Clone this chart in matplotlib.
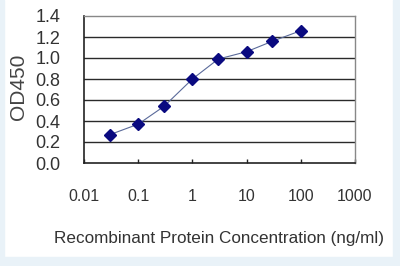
import matplotlib.pyplot as plt
import matplotlib.patches as patches
import numpy as np

# data
conc = [0.03, 0.1, 0.3, 1, 3, 10, 30, 100]
od450 = [0.27, 0.37, 0.54, 0.80, 0.99, 1.06, 1.16, 1.26]
y_ticks = [0.0, 0.2, 0.4, 0.6, 0.8, 1.0, 1.2, 1.4]
x_ticks = [0.01, 0.1, 1, 10, 100, 1000]
x_labels = ['0.01', '0.1', '1', '10', '100', '1000']

plt.rcParams['font.family'] = 'sans-serif'
plt.rcParams['font.sans-serif'] = ['Liberation Sans', 'DejaVu Sans']
txt = '#333333'

W, H = 400, 266
fig = plt.figure(figsize=(W / 100, H / 100), dpi=100)
fig.patch.set_facecolor('white')

# light blue frame around the white panel
bg = '#e9f2f8'
fig.patches.append(patches.Rectangle((0, 0), 4 / W, 1, transform=fig.transFigure, color=bg, zorder=-1))
fig.patches.append(patches.Rectangle((393 / W, 0), 7 / W, 1, transform=fig.transFigure, color=bg, zorder=-1))
fig.patches.append(patches.Rectangle((0, 0), 1, 9 / H, transform=fig.transFigure, color=bg, zorder=-1))

# axes: x 84..355, y 16..163 (pixels)
ax = fig.add_axes([84 / W, 1 - 163 / H, (355 - 84) / W, (163 - 16) / H])
ax.set_xscale('log')
ax.set_xlim(0.01, 1000)
ax.set_ylim(0, 1.4)

for y in y_ticks[1:-1]:
    ax.axhline(y, color='#2a2a2a', linewidth=1.0, zorder=1)

ax.plot(conc, od450, color='#5a6a9a', linewidth=0.8, zorder=2)
ax.plot(conc, od450, linestyle='none', marker='D', markersize=6,
        color='#0a0a80', zorder=3)

for side in ['top', 'right']:
    ax.spines[side].set_color('#888888')
    ax.spines[side].set_linewidth(1.0)
for side in ['left', 'bottom']:
    ax.spines[side].set_color('#222222')
    ax.spines[side].set_linewidth(1.2)

ax.set_yticks(y_ticks)
ax.set_yticklabels([f'{v:.1f}' for v in y_ticks], fontsize=13, color=txt)
ax.tick_params(axis='y', length=0, pad=17)

ax.set_xticks(x_ticks)
ax.set_xticklabels(x_labels, fontsize=11.5, color=txt)
ax.xaxis.set_minor_locator(plt.NullLocator())
ax.tick_params(axis='x', direction='in', length=3, width=1, color='#222222', pad=19)

ax.set_ylabel('OD450', fontsize=15, color='#444444')
ax.yaxis.set_label_coords(-0.205, 0.52)
ax.set_xlabel('Recombinant Protein Concentration (ng/ml)', fontsize=12.3, color=txt)
ax.xaxis.set_label_coords(0.5, -0.46)

fig.savefig('out.png', dpi=100)
